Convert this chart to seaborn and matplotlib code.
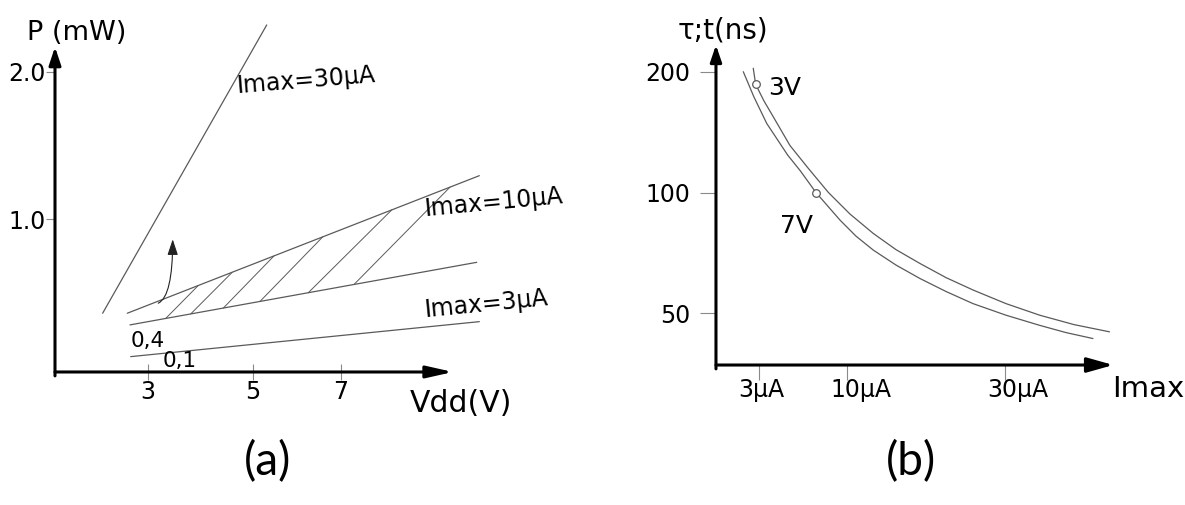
import numpy as np
import pandas as pd
import matplotlib
matplotlib.use("Agg")
import matplotlib.pyplot as plt
import seaborn as sns
from matplotlib.ticker import NullLocator, FixedLocator, NullFormatter

# ---------------- Panel (a): P (mW) versus Vdd (V) ----------------
vdd_30 = [2.06, 5.46]
p_30 = [0.364, 2.317]
vdd_10_hi = [2.571, 9.866]
p_10_hi = [0.364, 1.296]
vdd_10_lo = [2.627, 9.812]
p_10_lo = [0.285, 0.709]
vdd_3 = [2.641, 9.866]
p_3 = [0.070, 0.307]
hatch_v_lo = [3.367, 3.885, 4.561, 5.321, 6.322, 7.269]
hatch_v_hi = [4.042, 4.747, 5.611, 6.621, 8.051, 9.259]
arrow_v = [3.213, 3.512]
arrow_p = [0.432, 0.865]
a_xticks = [3, 5.18, 7]
a_xticklabels = ["3", "5", "7"]
a_yticks = [1.0, 2.0]
a_yticklabels = ["1.0", "2.0"]
a_xlim = (1.073, 9.321)
a_ylim = (-0.034, 2.168)
a_line_labels = ["Imax=30\u00b5A", "Imax=10\u00b5A", "Imax=3\u00b5A"]
a_label_v = [4.855, 8.741, 8.741]
a_label_p = [1.858, 1.023, 0.341]
a_label_rot = [4.6, 5.4, 5.6]
a_small_labels = ["0,4", "0,1"]
a_small_v = [2.641, 3.305]
a_small_p = [0.138, -0.002]

# ---------------- Panel (b): tau;t (ns) versus Imax ----------------
imax_3v = [2.64, 2.78, 3.29, 3.89, 5.08, 6.53, 8.27, 10.34, 12.76, 15.31, 18.2,
           21.58, 25.3, 30.17, 35.5, 41.27, 47.6]
tau_3v = [204, 186, 169, 154.5, 131, 114.9, 100.1, 88.4, 79.1, 72.1, 66.6,
          61.4, 57.2, 52.9, 49.5, 46.9, 45.0]
imax_7v = [2.09, 2.68, 3.46, 4.91, 5.86, 7.18, 9.36, 10.94, 12.76, 15.31, 18.2,
           21.58, 25.3, 30.17, 35.5, 39.9, 44.6]
tau_7v = [200, 173, 148.7, 124, 113.5, 100, 85.4, 77.9, 71.9, 66.0, 61.1,
          56.7, 52.9, 49.5, 46.7, 44.8, 43.3]
mark_imax = [2.78, 7.18]
mark_tau = [186, 100]
volt_labels = ["3V", "7V"]
volt_label_imax = [3.54, 4.36]
volt_label_tau = [175, 79.1]
b_xticks = [3, 10, 30]
b_xlabel_pos = [3.13, 11.46, 32.0]
b_xticklabels = ["3\u00b5A", "10\u00b5A", "30\u00b5A"]
b_yticks = [50, 100, 200]
b_yticklabels = ["50", "100", "200"]
b_xlim = (0.863, 48.3)
b_ylim = (37.2, 233.1)

# ---------------- style ----------------
sns.set_style("white")
plt.rcParams["font.family"] = ["DejaVu Sans"]
plt.rcParams["text.color"] = "black"
plt.rcParams["xtick.color"] = "black"
plt.rcParams["ytick.color"] = "black"
LINE = "#5a5a5a"
TICK = "#8a8a8a"

fig = plt.figure(figsize=(11.85, 5.05), dpi=100)
fig.patch.set_facecolor("white")
ax_a = fig.add_axes([0.04641, 0.2634, 0.3359, 0.6436])
ax_b = fig.add_axes([0.6042, 0.2772, 0.3353, 0.6337])


def axis_arrows(ax, xhead, yhead):
    for xy0, xy1, (hl, hw) in [((0, 0), (1, 0), xhead), ((0, -0.012), (0, 1), yhead)]:
        ax.annotate("", xy=xy1, xytext=xy0, xycoords="axes fraction",
                    textcoords="axes fraction", annotation_clip=False,
                    arrowprops=dict(arrowstyle=f"-|>,head_length={hl},head_width={hw}",
                                    mutation_scale=1, lw=2.2, color="black",
                                    shrinkA=0, shrinkB=0))


# ---- panel (a)
df_a = pd.concat([
    pd.DataFrame({"Vdd": vdd_30, "P": p_30, "line": "30"}),
    pd.DataFrame({"Vdd": vdd_10_hi, "P": p_10_hi, "line": "10hi"}),
    pd.DataFrame({"Vdd": vdd_10_lo, "P": p_10_lo, "line": "10lo"}),
    pd.DataFrame({"Vdd": vdd_3, "P": p_3, "line": "3"}),
], ignore_index=True)
sns.lineplot(data=df_a, x="Vdd", y="P", units="line", estimator=None,
             color=LINE, lw=0.9, ax=ax_a, clip_on=False)

hatch_p_lo = np.interp(hatch_v_lo, vdd_10_lo, p_10_lo)
hatch_p_hi = np.interp(hatch_v_hi, vdd_10_hi, p_10_hi)
for v0, v1, q0, q1 in zip(hatch_v_lo, hatch_v_hi, hatch_p_lo, hatch_p_hi):
    ax_a.plot([v0, v1], [q0, q1], color=LINE, lw=0.7)

ax_a.annotate("", xy=(arrow_v[1], arrow_p[1]), xytext=(arrow_v[0], arrow_p[0]),
              arrowprops=dict(arrowstyle="-|>,head_length=9.6,head_width=3.2",
                              mutation_scale=1, lw=0.8, color="#222222",
                              shrinkA=0, shrinkB=0,
                              connectionstyle="angle3,angleA=25,angleB=90"))

for t, v, p, r in zip(a_line_labels, a_label_v, a_label_p, a_label_rot):
    ax_a.text(v, p, t, fontsize=17, rotation=r, rotation_mode="anchor",
              ha="left", va="baseline", clip_on=False)
for t, v, p in zip(a_small_labels, a_small_v, a_small_p):
    ax_a.text(v, p, t, fontsize=15.5, ha="left", va="baseline", clip_on=False)

ax_a.set_xlim(*a_xlim)
ax_a.set_ylim(*a_ylim)
ax_a.set_xticks(a_xticks, labels=a_xticklabels)
ax_a.set_yticks(a_yticks, labels=a_yticklabels)
ax_a.tick_params(axis="x", bottom=True, direction="inout", length=11.5, width=0.8,
                 color=TICK, labelcolor="black", pad=0, labelsize=17)
ax_a.tick_params(axis="y", left=True, direction="out", length=6.5, width=0.8,
                 color=TICK, labelcolor="black", pad=0, labelsize=17)
ax_a.set_xlabel("")
ax_a.set_ylabel("")
for s in ax_a.spines.values():
    s.set_visible(False)
axis_arrows(ax_a, (16, 3.6), (10.8, 3.6))
ax_a.text(-0.0704, 1.0215, "P (mW)", transform=ax_a.transAxes, fontsize=19.5,
          ha="left", va="baseline")
ax_a.text(0.892, -0.122, "Vdd(V)", transform=ax_a.transAxes, fontsize=21.5,
          ha="left", va="baseline")

# ---- panel (b)
df_b = pd.concat([
    pd.DataFrame({"Imax": imax_3v, "tau": tau_3v, "V": "3V"}),
    pd.DataFrame({"Imax": imax_7v, "tau": tau_7v, "V": "7V"}),
], ignore_index=True)
sns.lineplot(data=df_b, x="Imax", y="tau", units="V", estimator=None,
             color=LINE, lw=0.9, ax=ax_b, clip_on=False)
sns.scatterplot(x=mark_imax, y=mark_tau, ax=ax_b, marker="o", s=30,
                facecolor="white", edgecolor=LINE, linewidth=0.9, zorder=5)
for t, i, v in zip(volt_labels, volt_label_imax, volt_label_tau):
    ax_b.text(i, v, t, fontsize=18, ha="left", va="baseline")

ax_b.set_xscale("function", functions=(lambda x: np.sign(x) * np.abs(x) ** 0.6,
                                        lambda x: np.sign(x) * np.abs(x) ** (1 / 0.6)))
ax_b.set_yscale("log")
ax_b.set_xlim(*b_xlim)
ax_b.set_ylim(*b_ylim)
ax_b.xaxis.set_major_locator(FixedLocator(b_xticks))
ax_b.xaxis.set_major_formatter(NullFormatter())
ax_b.xaxis.set_minor_locator(FixedLocator(b_xlabel_pos))
ax_b.set_xticklabels(b_xticklabels, minor=True)
ax_b.yaxis.set_major_locator(FixedLocator(b_yticks))
ax_b.set_yticklabels(b_yticklabels)
ax_b.yaxis.set_minor_locator(NullLocator())
ax_b.tick_params(axis="x", which="major", bottom=True, direction="out", length=11,
                 width=0.8, color=TICK)
ax_b.tick_params(axis="x", which="minor", bottom=True, length=0, pad=9,
                 labelsize=17, labelcolor="black")
ax_b.tick_params(axis="y", left=True, direction="out", length=11.5, width=0.8,
                 color=TICK, labelcolor="black", pad=7, labelsize=17)
ax_b.set_xlabel("")
ax_b.set_ylabel("")
for s in ax_b.spines.values():
    s.set_visible(False)
axis_arrows(ax_b, (16, 4.5), (10, 3.4))
ax_b.text(0.0176, 1.019, "\u03c4;t(ns)", transform=ax_b.transAxes, fontsize=20,
          ha="center", va="baseline")
ax_b.text(0.996, -0.1, "Imax", transform=ax_b.transAxes, fontsize=21,
          ha="left", va="baseline")

# ---- captions
fig.text(0.2262, 0.0851, "(a)", fontsize=33, family=["Lato", "DejaVu Sans"],
         ha="center", va="center")
fig.text(0.7688, 0.0851, "(b)", fontsize=33, family=["Lato", "DejaVu Sans"],
         ha="center", va="center")

fig.savefig("out.png", dpi=100, facecolor="white")
